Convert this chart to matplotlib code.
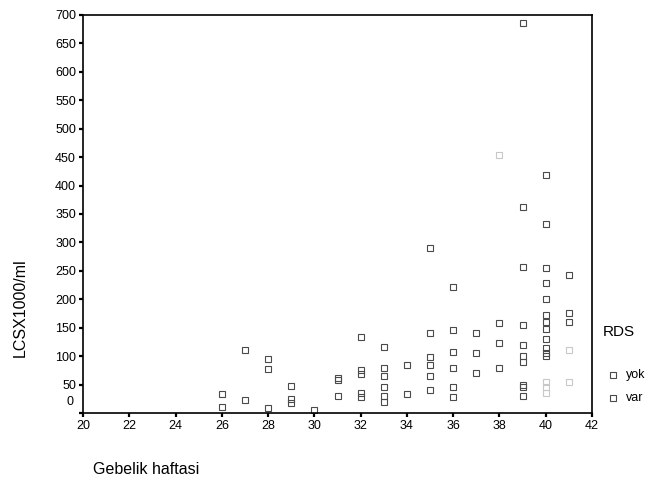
import matplotlib.pyplot as plt
from matplotlib.lines import Line2D

plt.rcParams['font.family'] = ['Liberation Sans', 'DejaVu Sans']

# Gebelik haftasi (week) and LCS x1000/ml values
weeks_yok = [26, 26,
             27, 27,
             28, 28, 28,
             29, 29, 29,
             30,
             31, 31, 31,
             32, 32, 32, 32, 32,
             33, 33, 33, 33, 33, 33,
             34, 34,
             35, 35, 35, 35, 35, 35,
             36, 36, 36, 36, 36, 36,
             37, 37, 37,
             38, 38, 38,
             39, 39, 39, 39, 39, 39, 39, 39, 39, 39,
             40, 40, 40, 40, 40, 40, 40, 40, 40, 40, 40, 40,
             41, 41, 41]
lcs_yok = [33, 10,
           111, 22,
           95, 77, 8,
           47, 25, 18,
           6,
           62, 58, 30,
           134, 75, 68, 35, 28,
           116, 80, 65, 45, 30, 20,
           84, 33,
           290, 140, 98, 85, 65, 40,
           222, 146, 107, 80, 45, 28,
           141, 105, 70,
           158, 123, 79,
           686, 362, 257, 155, 120, 100, 90, 50, 45, 30,
           419, 332, 255, 228, 200, 172, 160, 148, 130, 115, 105, 100,
           243, 176, 160]

weeks_var = [38, 40, 40, 40, 41, 41]
lcs_var = [454, 55, 45, 35, 110, 55]

x_ticks = list(range(20, 43, 2))
y_ticks = list(range(0, 701, 50))
group_labels = ['yok', 'var']

fig = plt.figure(figsize=(6.57, 4.84), dpi=100)
ax = fig.add_axes([83 / 657, 1 - 413 / 484, 509 / 657, 398 / 484])

mk = dict(marker='s', markersize=5, markerfacecolor='none', linestyle='none')
ax.plot(weeks_yok, lcs_yok, markeredgecolor='#4a4a4a', markeredgewidth=0.8, **mk)
ax.plot(weeks_var, lcs_var, markeredgecolor='#c8c8c8', markeredgewidth=0.8, **mk)

ax.set_xlim(20, 42)
ax.set_ylim(0, 700)
ax.set_xticks(x_ticks)
ax.set_yticks(y_ticks)
# SPSS puts the "0" label a little above its tick
ax.set_yticklabels([''] + [str(v) for v in y_ticks[1:]])
ax.annotate('0', xy=(0, 0), xycoords=('axes fraction', 'data'),
            xytext=(-7, 8), textcoords='offset points',
            ha='right', va='center', fontsize=9)

ax.tick_params(axis='both', direction='out', length=3, width=1.6, labelsize=9,
               color='black', pad=2)
for s in ax.spines.values():
    s.set_linewidth(1.2)

fig.text(20 / 657, 1 - 308 / 484, 'LCSX1000/ml', rotation=90,
         ha='center', va='center', fontsize=11.5)
fig.text(93 / 657, 1 - 469 / 484, 'Gebelik haftasi', ha='left', va='center',
         fontsize=11.5)

# legend, placed by hand to the right of the plot
fig.text(603 / 657, 1 - 332 / 484, 'RDS', ha='left', va='center', fontsize=11)
for i, lab in enumerate(group_labels):
    yy = 1 - (375 + 23 * i) / 484
    fig.add_artist(Line2D([613 / 657], [yy], transform=fig.transFigure,
                          markeredgecolor='#4a4a4a', markeredgewidth=0.8, **mk))
    fig.text(626 / 657, yy, lab, ha='left', va='center', fontsize=9)

fig.savefig('out.png', dpi=100)
